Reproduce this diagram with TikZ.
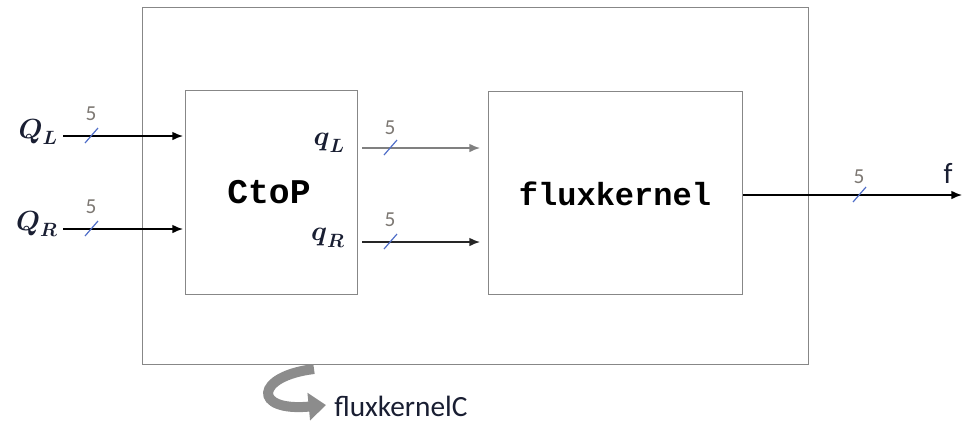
\documentclass[tikz,border=0pt]{standalone}
\usepackage{amsmath}
\usepackage{fontspec}
\setmainfont{Carlito}
\newfontfamily\codefont{Liberation Mono}
\usetikzlibrary{arrows.meta}
\definecolor{boxgray}{RGB}{135,135,135}
\definecolor{slashblue}{RGB}{80,110,200}
\definecolor{numgray}{RGB}{125,120,115}
\definecolor{labnavy}{RGB}{25,30,50}
\tikzset{
  blk/.style={draw=boxgray, line width=1pt},
  sig/.style={-{Latex[length=8pt,width=6.5pt]}, line width=1.1pt},
  slash/.style={slashblue, line width=0.9pt},
  num/.style={numgray, font=\fontsize{16}{16}\selectfont, inner sep=0pt},
  lab/.style={labnavy, font=\fontsize{22}{22}\selectfont, inner sep=0pt},
  code/.style={font=\codefont\bfseries\fontsize{24}{24}\selectfont},
}
\begin{document}
\begin{tikzpicture}[x=0.75pt,y=-0.75pt]
\useasboundingbox (0,0) rectangle (962,426);
% boxes
\node[blk, minimum width=666*0.75pt, minimum height=357*0.75pt, anchor=north west, inner sep=0pt] (outer) at (142,7) {};
\node[blk, minimum width=172*0.75pt, minimum height=204*0.75pt, anchor=north west, inner sep=0pt] (ctop) at (185,90) {};
\node[blk, minimum width=254*0.75pt, minimum height=203*0.75pt, anchor=north west, inner sep=0pt] (fk) at (488,91) {};
\node[code, font=\codefont\bfseries\fontsize{26}{26}\selectfont] (ctoptxt) at (269,192) {CtoP};
\node[code] (fktxt) at (615,194) {fluxkernel};
% inputs
\node[lab, anchor=east] (QL) at (58,132) {$\boldsymbol{Q}_{\boldsymbol{L}}$};
\node[lab, anchor=east] (QR) at (58,224) {$\boldsymbol{Q}_{\boldsymbol{R}}$};
\coordinate (QLs) at (63,136);
\coordinate (QRs) at (63,229);
\coordinate (ctopL) at (183,136);
\coordinate (ctopR) at (183,229);
\draw[sig, black] (QLs) -- (ctopL);
\draw[sig, black] (QRs) -- (ctopR);
\draw[slash] (85,143) -- (98,128);
\draw[slash] (85,236) -- (98,221);
\node[num] (n1) at (91,114) {5};
\node[num] (n2) at (91,207) {5};
% intermediate
\node[lab, anchor=east] (qL) at (345,143) {$\boldsymbol{q}_{\boldsymbol{L}}$};
\node[lab, anchor=east] (qR) at (345,238) {$\boldsymbol{q}_{\boldsymbol{R}}$};
\coordinate (qLs) at (362,148);
\coordinate (qRs) at (362,242);
\coordinate (fkL) at (480,148);
\coordinate (fkR) at (480,242);
\draw[sig, black!50] (qLs) -- (fkL);
\draw[sig, black!85] (qRs) -- (fkR);
\draw[slash] (384,155) -- (397,140);
\draw[slash] (384,249) -- (397,234);
\node[num] (n3) at (390,128) {5};
\node[num] (n4) at (390,220) {5};
% output
\coordinate (fend) at (962,195);
\draw[sig, black] (fk.east |- fend) -- (fend);
\draw[slash] (853,202) -- (866,187);
\node[num] (n5) at (859,177) {5};
\node[labnavy, font=\fontsize{22}{22}\selectfont, inner sep=0pt] (f) at (948,173) {f};
% curved arrow icon
\draw[black!45, line width=7.5pt, -{Triangle[length=13pt,width=20pt]}] (314,369) .. controls (255,376) and (252,412) .. (326,405);
\node[labnavy, font=\fontsize{22}{22}\selectfont, anchor=west, inner sep=0pt] (fkc) at (334,406) {fluxkernelC};
\end{tikzpicture}
\end{document}
